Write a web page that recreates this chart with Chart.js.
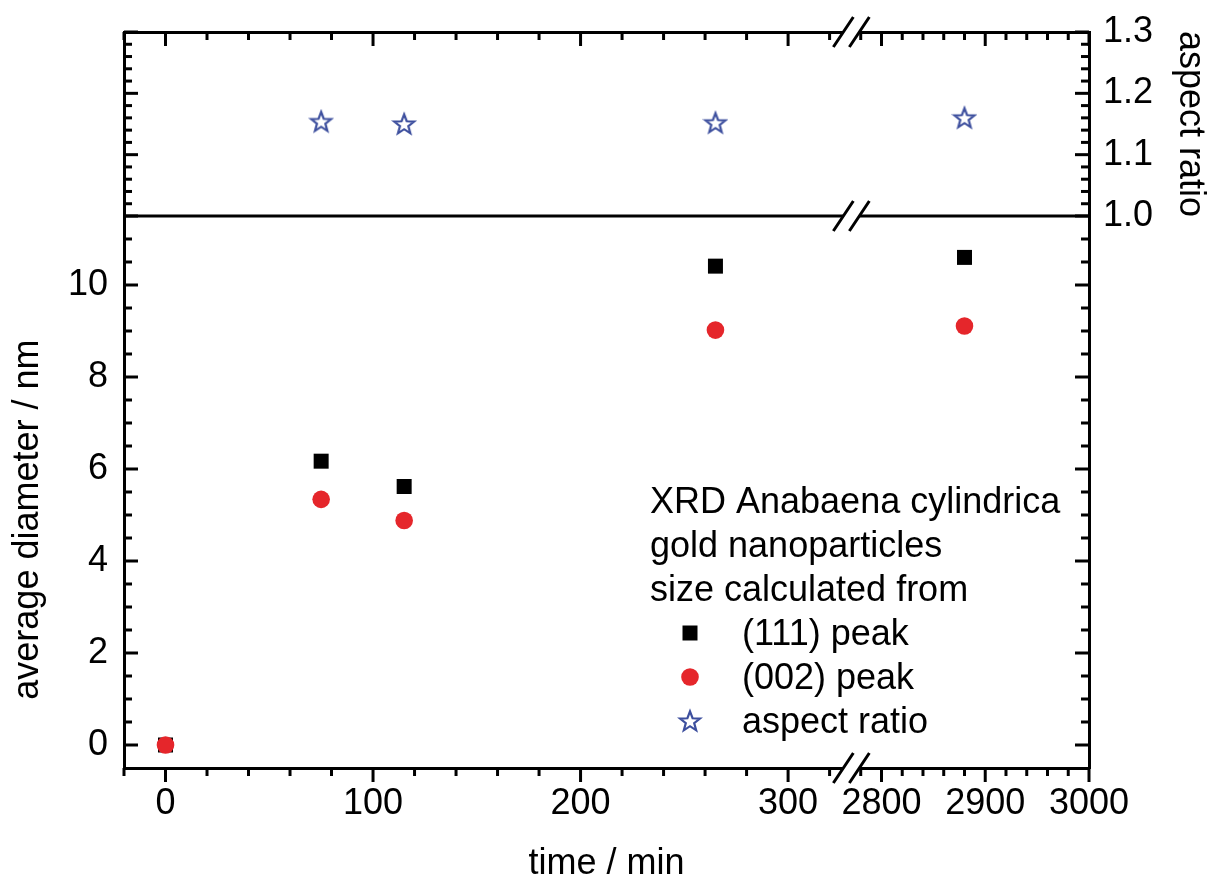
<!DOCTYPE html>
<html>
<head>
<meta charset="utf-8">
<script src="https://cdn.jsdelivr.net/npm/chart.js@4.4.1/dist/chart.umd.min.js"></script>
<style>
  html, body { margin: 0; padding: 0; background: #fff; }
  #wrap { width: 1208px; height: 882px; }
</style>
</head>
<body>
<div id="wrap"><canvas id="graficoXRD"></canvas></div>
<script>
// valores
var timeMin = [0, 75, 115, 265, 2880];
var peak111 = [0, 6.17, 5.62, 10.41, 10.60];
var peak002 = [0, 5.34, 4.88, 9.02, 9.11];
var aspectTime = [75, 115, 265, 2880];
var aspectRatio = [1.154, 1.150, 1.152, 1.160];

var xMajorTicks = [0, 100, 200, 300, 2800, 2900, 3000];
var diameterMajorTicks = [0, 2, 4, 6, 8, 10];
var aspectMajorTicks = [1.0, 1.1, 1.2, 1.3];
var legendHeader = ['XRD Anabaena cylindrica', 'gold nanoparticles', 'size calculated from'];
var yTitle = 'average diameter / nm';

// eixo x quebrado: 0..330 normal, 2770..3000 com metade da escala
var breakLeft = 330, breakRight = 2770, rightFactor = 0.5;
function toAxis(t) { return t <= breakLeft ? t : breakLeft + (t - breakRight) * rightFactor; }
function fromAxis(u) { return u <= breakLeft ? u : breakRight + (u - breakLeft) / rightFactor; }

var xTicks = [];
for (var t = -20; t <= 320; t += 20) xTicks.push(toAxis(t));
for (var t2 = 2780; t2 <= 3000; t2 += 20) xTicks.push(toAxis(t2));
var diaTicks = [];
for (var d = 0; d <= 11; d += 0.5) diaTicks.push(d);
var aspTicks = [];
for (var a = 0; a <= 15; a++) aspTicks.push(1 + a * 0.02);

var FONT = "'Liberation Sans', Arial, sans-serif";
Chart.defaults.font.family = FONT;
Chart.defaults.color = '#000';

function makeStar(color) {
  var c = document.createElement('canvas');
  c.width = 26; c.height = 26;
  var g = c.getContext('2d');
  g.beginPath();
  for (var i = 0; i < 10; i++) {
    var r = i % 2 ? 4.4 : 10.5;
    var ang = -Math.PI / 2 + i * Math.PI / 5;
    g.lineTo(13 + r * Math.cos(ang), 13.8 + r * Math.sin(ang));
  }
  g.closePath();
  g.strokeStyle = color;
  g.lineWidth = 2.2;
  g.stroke();
  return c;
}
var starImg = makeStar('#3d4f9e');

function isMajor(list, v) {
  return list.some(function (m) { return Math.abs(m - v) < 1e-6; });
}

var majorLists = {
  x: xMajorTicks.map(toAxis), x2: xMajorTicks.map(toAxis),
  y: diameterMajorTicks, yBR: diameterMajorTicks,
  yTL: aspectMajorTicks, yTR: aspectMajorTicks
};

// marcas de escala (para dentro, exceto o eixo x de baixo)
var tickMarks = {
  id: 'tickMarks',
  afterDraw: function (chart) {
    var ctx = chart.ctx, area = chart.chartArea;
    ctx.save();
    ctx.strokeStyle = '#000';
    ctx.lineWidth = 3;
    Object.keys(chart.scales).forEach(function (id) {
      var s = chart.scales[id];
      s.ticks.forEach(function (tk) {
        var p = s.getPixelForValue(tk.value);
        var len = isMajor(majorLists[id], tk.value) ? 14 : 8;
        ctx.beginPath();
        if (id === 'x') { ctx.moveTo(p, s.top); ctx.lineTo(p, s.top + len); }
        else if (id === 'x2') { ctx.moveTo(p, s.bottom); ctx.lineTo(p, s.bottom + len); }
        else if (id === 'y' || id === 'yTL') { ctx.moveTo(s.right, p); ctx.lineTo(s.right + len, p); }
        else { ctx.moveTo(s.left, p); ctx.lineTo(s.left - len, p); }
        ctx.stroke();
      });
    });
    // linha divisoria entre os paineis
    var yDiv = chart.scales.yTL.bottom;
    ctx.beginPath();
    ctx.moveTo(area.left, yDiv);
    ctx.lineTo(area.right, yDiv);
    ctx.stroke();

    // sinais de quebra //
    var xb = chart.scales.x.getPixelForValue(breakLeft) + 1;
    [area.top, yDiv, area.bottom].forEach(function (yy) {
      ctx.fillStyle = '#fff';
      ctx.beginPath();
      ctx.moveTo(xb - 8 - 9, yy + 13);
      ctx.lineTo(xb - 8 + 9, yy - 13);
      ctx.lineTo(xb + 8 + 9, yy - 13);
      ctx.lineTo(xb + 8 - 9, yy + 13);
      ctx.closePath();
      ctx.fill();
      ctx.beginPath();
      ctx.moveTo(xb - 8 - 10, yy + 15); ctx.lineTo(xb - 8 + 10, yy - 15);
      ctx.moveTo(xb + 8 - 10, yy + 15); ctx.lineTo(xb + 8 + 10, yy - 15);
      ctx.stroke();
    });

    // titulo do eixo y da esquerda (um pouco abaixo do centro do painel)
    var ys = chart.scales.y;
    ctx.save();
    ctx.translate(28, ys.getPixelForValue(4.9));
    ctx.rotate(-Math.PI / 2);
    ctx.font = '36px ' + FONT;
    ctx.fillStyle = '#000';
    ctx.textAlign = 'center';
    ctx.textBaseline = 'middle';
    ctx.fillText(yTitle, 0, 0);
    ctx.restore();
    ctx.restore();
  }
};

// legenda dentro da area do grafico
var legendaXRD = {
  id: 'legendaXRD',
  afterDraw: function (chart) {
    var ctx = chart.ctx, area = chart.chartArea;
    var x0 = area.left + 526, y0 = area.top + 481, step = 44;
    ctx.save();
    ctx.font = '36px ' + FONT;
    ctx.fillStyle = '#000';
    ctx.textBaseline = 'alphabetic';
    legendHeader.forEach(function (line, i) { ctx.fillText(line, x0, y0 + i * step); });
    chart.data.datasets.slice().sort(function (a, b) { return a.legendPos - b.legendPos; }).forEach(function (ds, i) {
      var yb = y0 + (legendHeader.length + i) * step;
      var mx = x0 + 40, my = yb - 12;
      ctx.fillStyle = ds.pointBackgroundColor;
      if (ds.pointStyle === 'rect') {
        var h = ds.pointRadius * Math.SQRT1_2;
        ctx.fillRect(mx - h, my - h, 2 * h, 2 * h);
      } else if (ds.pointStyle === 'circle') {
        ctx.beginPath(); ctx.arc(mx, my, ds.pointRadius, 0, Math.PI * 2); ctx.fill();
      } else {
        ctx.drawImage(ds.pointStyle, mx - ds.pointStyle.width / 2, my - ds.pointStyle.height / 2);
      }
      ctx.fillStyle = '#000';
      ctx.fillText(ds.label, x0 + 92, yb);
    });
    ctx.restore();
  }
};

function xy(xs, ys) {
  return xs.map(function (t, i) { return { x: toAxis(t), y: ys[i] }; });
}

// fixa o tamanho de cada eixo e tira a folga dos rotulos
function fixSize(w, h) {
  return function (s) {
    if (w) s.width = w;
    if (h) s.height = h;
    s.paddingTop = 0; s.paddingBottom = 0;
    s.paddingLeft = 0; s.paddingRight = 0;
  };
}

var tickFont = { size: 36, family: FONT };
var titleFont = { size: 36, family: FONT, lineHeight: 1 };
var borderOpts = { display: true, color: '#000', width: 3 };

new Chart(document.getElementById('graficoXRD').getContext('2d'), {
  type: 'scatter',
  data: {
    datasets: [{
      label: '(111) peak',
      legendPos: 0,
      data: xy(timeMin, peak111),
      yAxisID: 'y',
      order: 2,
      pointStyle: 'rect',
      pointRadius: 10.6,
      pointBackgroundColor: '#000',
      pointBorderWidth: 0,
      showLine: false
    }, {
      label: '(002) peak',
      legendPos: 1,
      data: xy(timeMin, peak002),
      yAxisID: 'y',
      order: 1,
      pointStyle: 'circle',
      pointRadius: 8.8,
      pointBackgroundColor: '#e5262b',
      pointBorderWidth: 0,
      showLine: false
    }, {
      label: 'aspect ratio',
      legendPos: 2,
      data: xy(aspectTime, aspectRatio),
      yAxisID: 'yTR',
      order: 3,
      pointStyle: starImg,
      pointRadius: 10,
      pointBackgroundColor: '#3d4f9e',
      showLine: false
    }]
  },
  options: {
    responsive: true,
    maintainAspectRatio: false,
    animation: false,
    layout: { padding: 0 },
    plugins: { legend: { display: false }, tooltip: { enabled: false } },
    scales: {
      x: {
        type: 'linear', position: 'bottom',
        min: toAxis(-20), max: toAxis(3000),
        afterBuildTicks: function (s) { s.ticks = xTicks.map(function (v) { return { value: v }; }); },
        afterFit: fixSize(0, 114),
        grid: { display: false, drawTicks: false },
        border: borderOpts,
        ticks: {
          font: tickFont, padding: 14, autoSkip: false, maxRotation: 0,
          callback: function (v) { return isMajor(majorLists.x, v) ? String(Math.round(fromAxis(v))) : ''; }
        },
        title: { display: true, text: 'time / min', font: titleFont, padding: { top: 0, bottom: 0 } }
      },
      x2: {
        type: 'linear', position: 'top',
        min: toAxis(-20), max: toAxis(3000),
        afterBuildTicks: function (s) { s.ticks = xTicks.map(function (v) { return { value: v }; }); },
        afterFit: fixSize(0, 32),
        grid: { display: false, drawTicks: false },
        border: borderOpts,
        ticks: { display: false }
      },
      y: {
        type: 'linear', position: 'left', stack: 'esq', stackWeight: 552, weight: 0,
        min: -0.5, max: 11.5,
        afterBuildTicks: function (s) { s.ticks = diaTicks.map(function (v) { return { value: v }; }); },
        afterFit: fixSize(124, 0),
        grid: { display: false, drawTicks: false },
        border: borderOpts,
        ticks: {
          font: tickFont, padding: 16, autoSkip: false,
          callback: function (v) { return isMajor(diameterMajorTicks, v) ? String(v) : ''; }
        }
      },
      yTL: {
        type: 'linear', position: 'left', stack: 'esq', stackWeight: 184, weight: 1,
        min: 1.0, max: 1.3,
        afterBuildTicks: function (s) { s.ticks = aspTicks.map(function (v) { return { value: v }; }); },
        afterFit: fixSize(124, 0),
        grid: { display: false, drawTicks: false },
        border: borderOpts,
        ticks: { display: false }
      },
      yTR: {
        type: 'linear', position: 'right', stack: 'dir', stackWeight: 184, weight: 0,
        min: 1.0, max: 1.3,
        afterBuildTicks: function (s) { s.ticks = aspTicks.map(function (v) { return { value: v }; }); },
        afterFit: fixSize(119, 0),
        grid: { display: false, drawTicks: false },
        border: borderOpts,
        ticks: {
          font: tickFont, padding: 14, autoSkip: false,
          callback: function (v) { return isMajor(aspectMajorTicks, v) ? v.toFixed(1) : ''; }
        },
        title: { display: true, text: 'aspect ratio', font: titleFont, padding: { top: 0, bottom: 0 } }
      },
      yBR: {
        type: 'linear', position: 'right', stack: 'dir', stackWeight: 552, weight: 1,
        min: -0.5, max: 11.5,
        afterBuildTicks: function (s) { s.ticks = diaTicks.map(function (v) { return { value: v }; }); },
        afterFit: fixSize(119, 0),
        grid: { display: false, drawTicks: false },
        border: borderOpts,
        ticks: { display: false }
      }
    }
  },
  plugins: [tickMarks, legendaXRD]
});
</script>
</body>
</html>
